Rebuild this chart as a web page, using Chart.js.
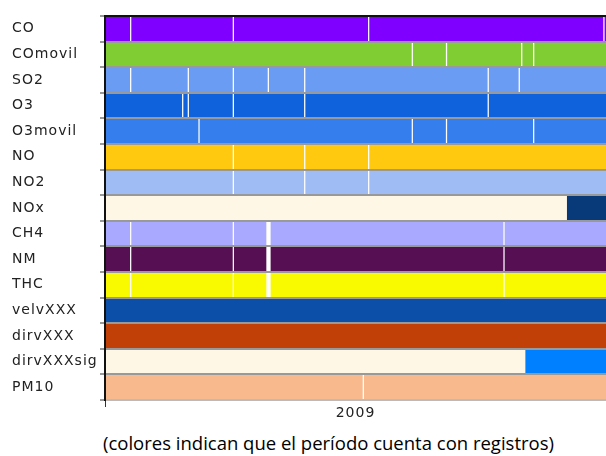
<!DOCTYPE html>
<html>
<head>
<meta charset="utf-8">
<script src="https://cdn.jsdelivr.net/npm/chart.js@4.4.1/dist/chart.umd.min.js"></script>
<style>
    body { margin: 0; background: #fff; width: 606px; height: 456px; overflow: hidden; position: relative; }
    #chart { position: absolute; left: 0; top: 0; }
    .caption { position: absolute; left: 103px; top: 430px; font-family: 'Open Sans', sans-serif; font-size: 18.5px; color: #000; white-space: nowrap; }
</style>
</head>
<body>
<canvas id="chart" width="606" height="425"></canvas>
<div class="caption">(colores indican que el período cuenta con registros)</div>
<script>
const parameters = ['CO', 'COmovil', 'SO2', 'O3', 'O3movil', 'NO', 'NO2', 'NOx', 'CH4', 'NM', 'THC', 'velvXXX', 'dirvXXX', 'dirvXXXsig', 'PM10'];

const parameterColors = ['#8000ff', '#80cc33', '#6b9cf3', '#0f62dc', '#347eee', '#fec90f', '#a0bcf4', '#fff7e6',
    '#a9a9ff', '#560f52', '#f9f900', '#0b4fa9', '#c04008', '#fff7e6', '#f8b98c'];

// days of 2009 (0 = 1 Jan) without records, [from, to]
const missingPeriods = [
    [[18.0, 19.4], [92.8, 94.2], [191.4, 192.8], [362.8, 364.2]],
    [[223.2, 224.6], [248.1, 249.5], [302.9, 304.3], [311.6, 313.0]],
    [[18.0, 19.4], [60.0, 61.4], [92.8, 94.2], [118.3, 119.7], [144.8, 146.2], [278.5, 279.9], [301.1, 302.5]],
    [[55.9, 57.3], [60.0, 61.4], [92.8, 94.2], [144.8, 146.2], [278.5, 279.9]],
    [[67.8, 69.2], [223.2, 224.6], [248.1, 249.5], [311.6, 313.0]],
    [[92.8, 94.2], [144.8, 146.2], [191.4, 192.8]],
    [[92.8, 94.2], [144.8, 146.2], [191.4, 192.8]],
    [],
    [[18.0, 19.4], [92.8, 94.2], [117.3, 120.9], [290.0, 291.4]],
    [[18.0, 19.4], [92.8, 94.2], [117.3, 120.9], [290.0, 291.4]],
    [[18.0, 19.4], [92.8, 94.2], [117.3, 120.9], [290.0, 291.4]],
    [],
    [],
    [],
    [[187.5, 188.9]]
];

// from this day on the records are of a second kind (null = none)
const secondPeriodStart = [null, null, null, null, null, null, null, 336.8, null, null, null, null, null, 306.5, null];
const secondPeriodColors = [null, null, null, null, null, null, null, '#083a7a', null, null, null, null, null, '#0080ff', null];

const yearTicks = [0, 182.5, 365];
const yearLabels = ['', '2009', ''];

const segments = [];
const segmentColors = [];

parameters.forEach((name, i) => {
    const pieces = [];
    let cursor = yearTicks[0];
    missingPeriods[i].forEach(gap => {
        pieces.push([cursor, gap[0]]);
        cursor = gap[1];
    });
    pieces.push([cursor, yearTicks[yearTicks.length - 1]]);

    const split = secondPeriodStart[i];
    pieces.forEach(p => {
        if (split !== null && p[0] < split && p[1] > split) {
            segments.push({ x: [p[0], split], y: name });
            segmentColors.push(parameterColors[i]);
            segments.push({ x: [split, p[1]], y: name });
            segmentColors.push(secondPeriodColors[i]);
        } else {
            segments.push({ x: p, y: name });
            segmentColors.push(split !== null && p[0] >= split ? secondPeriodColors[i] : parameterColors[i]);
        }
    });
});

const letterSpacing = {
    id: 'letterSpacing',
    beforeDraw(chart) {
        chart.ctx.letterSpacing = '1px';
    }
};

const labelFont = { family: 'DejaVu Sans', size: 14 };

new Chart(document.getElementById('chart').getContext('2d'), {
    type: 'bar',
    data: {
        labels: parameters,
        datasets: [{
            data: segments,
            backgroundColor: segmentColors,
            borderWidth: 0,
            barPercentage: 1,
            categoryPercentage: 1,
            grouped: false
        }]
    },
    options: {
        indexAxis: 'y',
        responsive: false,
        animation: false,
        layout: {
            padding: { left: 12, top: 16, right: 0, bottom: 0 }
        },
        plugins: {
            legend: { display: false },
            tooltip: { enabled: false }
        },
        scales: {
            x: {
                type: 'linear',
                min: yearTicks[0],
                max: yearTicks[yearTicks.length - 1],
                afterBuildTicks: axis => {
                    axis.ticks = yearTicks.map(v => ({ value: v }));
                },
                afterFit: axis => {
                    axis.height = 25;
                },
                ticks: {
                    autoSkip: false,
                    maxRotation: 0,
                    padding: -2,
                    font: labelFont,
                    color: '#222',
                    callback: (v, i) => yearLabels[i]
                },
                grid: {
                    drawOnChartArea: false,
                    tickLength: 7,
                    tickColor: c => yearLabels[c.index] ? 'rgba(0,0,0,0)' : '#333'
                },
                border: { display: false }
            },
            y: {
                type: 'category',
                afterFit: axis => {
                    axis.width = 93;
                },
                ticks: {
                    crossAlign: 'far',
                    font: labelFont,
                    color: '#222'
                },
                grid: {
                    offset: true,
                    z: 1,
                    lineWidth: 2,
                    tickLength: 5,
                    tickColor: '#999',
                    color: c => c.index === 0 ? '#111' : (c.index === undefined ? '#bbb' : '#999')
                },
                border: { color: '#111', width: 2, z: 2 }
            }
        }
    },
    plugins: [letterSpacing]
});
</script>
</body>
</html>
